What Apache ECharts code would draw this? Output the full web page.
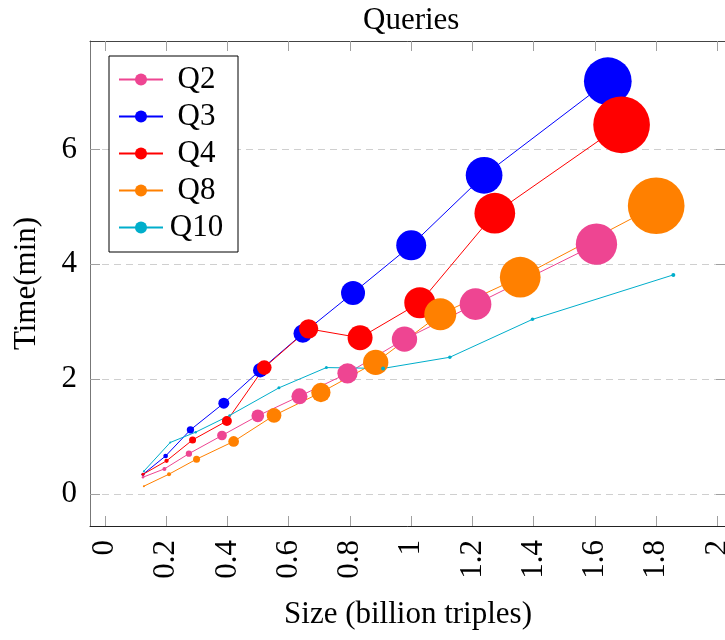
<!DOCTYPE html>
<html>
<head>
<meta charset="utf-8">
<script src="https://cdn.jsdelivr.net/npm/echarts@6/dist/echarts.min.js"></script>
<style>html,body{margin:0;padding:0;background:#fff}#c{width:725px;height:640px}</style>
</head>
<body>
<div id="c"></div>
<script>
// ---- data ----
const seriesNames = ['Q2', 'Q3', 'Q4', 'Q8', 'Q10'];
const xTicks = [0, 0.2, 0.4, 0.6, 0.8, 1, 1.2, 1.4, 1.6, 1.8, 2];
const yTicks = [0, 2, 4, 6];

const q2X = [0.124, 0.194, 0.274, 0.382, 0.499, 0.635, 0.792, 0.978, 1.21, 1.605];
const q2Y = [0.29, 0.435, 0.70, 1.017, 1.36, 1.70, 2.10, 2.695, 3.305, 4.35];
const q2Mark = [2.5, 4, 6.3, 9.7, 12.7, 16, 20.3, 25.3, 31.7, 41.3];

const q3X = [0.124, 0.198, 0.279, 0.388, 0.507, 0.646, 0.81, 1.0, 1.238, 1.642];
const q3Y = [0.34, 0.66, 1.115, 1.58, 2.155, 2.794, 3.50, 4.33, 5.55, 7.19];
const q3Mark = [3, 4.7, 7.3, 11, 14.5, 18.7, 24, 30, 36.7, 47.7];

const q4X = [0.124, 0.201, 0.286, 0.398, 0.52, 0.665, 0.833, 1.028, 1.273, 1.687];
const q4Y = [0.34, 0.575, 0.94, 1.27, 2.20, 2.875, 2.72, 3.33, 4.89, 6.43];
const q4Mark = [3, 4.3, 7, 10, 14.7, 19.3, 25, 31, 40.7, 56.7];

const q8X = [0.127, 0.209, 0.299, 0.42, 0.552, 0.705, 0.884, 1.095, 1.356, 1.80];
const q8Y = [0.134, 0.343, 0.605, 0.913, 1.366, 1.766, 2.29, 3.13, 3.775, 5.02];
const q8Mark = [2, 4, 7, 10.7, 14.7, 19.3, 25.3, 32, 40.7, 56.7];

const q10X = [0.127, 0.213, 0.296, 0.407, 0.568, 0.723, 0.908, 1.126, 1.396, 1.856];
const q10Y = [0.395, 0.895, 1.075, 1.366, 1.847, 2.20, 2.185, 2.38, 3.04, 3.815];
const q10Mark = [2, 2, 2.5, 2.5, 3, 3, 4, 3.5, 3.5, 4];

// ---- styling ----
const colors = ['#EE4592', '#0000FF', '#FF0000', '#FF8000', '#00AECB'];
const FONT = '"Liberation Serif", "DejaVu Serif", serif';

const xs = [q2X, q3X, q4X, q8X, q10X];
const ys = [q2Y, q3Y, q4Y, q8Y, q10Y];
const ms = [q2Mark, q3Mark, q4Mark, q8Mark, q10Mark];

function pts(i) {
  return xs[i].map((x, k) => [x, ys[i][k], ms[i][k]]);
}

const series = [];
seriesNames.forEach((n, i) => {
  series.push({
    name: n, type: 'line', data: pts(i), symbol: 'none',
    lineStyle: { color: colors[i], width: 1 },
    itemStyle: { color: colors[i] },
    z: 2, animation: false
  });
});
seriesNames.forEach((n, i) => {
  series.push({
    name: n, type: 'scatter', data: pts(i),
    symbol: 'circle',
    symbolSize: v => v[2],
    itemStyle: { color: colors[i], opacity: 1 },
    z: 3, animation: false
  });
});

const tickStyle = { show: true, inside: true, length: 10, lineStyle: { color: '#a0a0a0', width: 1 } };

const chart = echarts.init(document.getElementById('c'), null, { renderer: 'canvas' });
chart.setOption({
  backgroundColor: '#fff',
  animation: false,
  title: {
    text: 'Queries', left: 358, top: 0,
    textStyle: { fontFamily: FONT, fontSize: 31, fontWeight: 'normal', color: '#000' }
  },
  legend: {
    data: seriesNames, orient: 'vertical', left: 109, top: 56,
    padding: [8, 13, 9, 9],
    itemWidth: 44, itemHeight: 15, itemGap: 6,
    borderColor: '#000', borderWidth: 1, backgroundColor: '#fff',
    formatter: '{c|{name}}',
    textStyle: {
      fontFamily: FONT, fontSize: 31, color: '#000',
      rich: { c: { width: 57, align: 'center', fontFamily: FONT, fontSize: 31, lineHeight: 31, color: '#000' } }
    }
  },
  grid: { left: 90, right: -1, top: 41, bottom: 114, containLabel: false, outerBoundsMode: 'none' },
  xAxis: [{
    type: 'value', min: -0.049, max: 2.028, position: 'bottom',
    axisLine: { show: true, onZero: false, lineStyle: { color: '#222', width: 1 } },
    axisTick: Object.assign({ customValues: xTicks }, tickStyle),
    axisLabel: {
      customValues: xTicks, rotate: 90, margin: 14,
      fontFamily: FONT, fontSize: 31, color: '#000',
      formatter: v => String(v)
    },
    splitLine: { show: false },
    name: 'Size (billion triples)', nameLocation: 'middle', nameGap: 73,
    nameTextStyle: { fontFamily: FONT, fontSize: 31, color: '#000' }
  }, {
    type: 'value', min: -0.049, max: 2.028, position: 'top',
    axisLine: { show: true, onZero: false, lineStyle: { color: '#444', width: 1 } },
    axisTick: Object.assign({ customValues: xTicks }, tickStyle),
    axisLabel: { show: false },
    splitLine: { show: false }
  }],
  yAxis: [{
    type: 'value', min: -0.56, max: 7.89, position: 'left',
    axisLine: { show: true, onZero: false, lineStyle: { color: '#777', width: 1 } },
    axisTick: Object.assign({ customValues: yTicks }, tickStyle),
    axisLabel: {
      customValues: yTicks, margin: 13,
      fontFamily: FONT, fontSize: 31, color: '#000'
    },
    splitLine: { show: true, lineStyle: { color: '#cfcfcf', type: [7, 5], width: 1 } },
    name: 'Time(min)', nameLocation: 'middle', nameGap: 48,
    nameTextStyle: { fontFamily: FONT, fontSize: 31, color: '#000' }
  }, {
    type: 'value', min: -0.56, max: 7.89, position: 'right',
    axisLine: { show: true, onZero: false, lineStyle: { color: '#444', width: 1 } },
    axisTick: Object.assign({ customValues: yTicks }, tickStyle),
    axisLabel: { show: false },
    splitLine: { show: false }
  }],
  series: series
});
</script>
</body>
</html>
